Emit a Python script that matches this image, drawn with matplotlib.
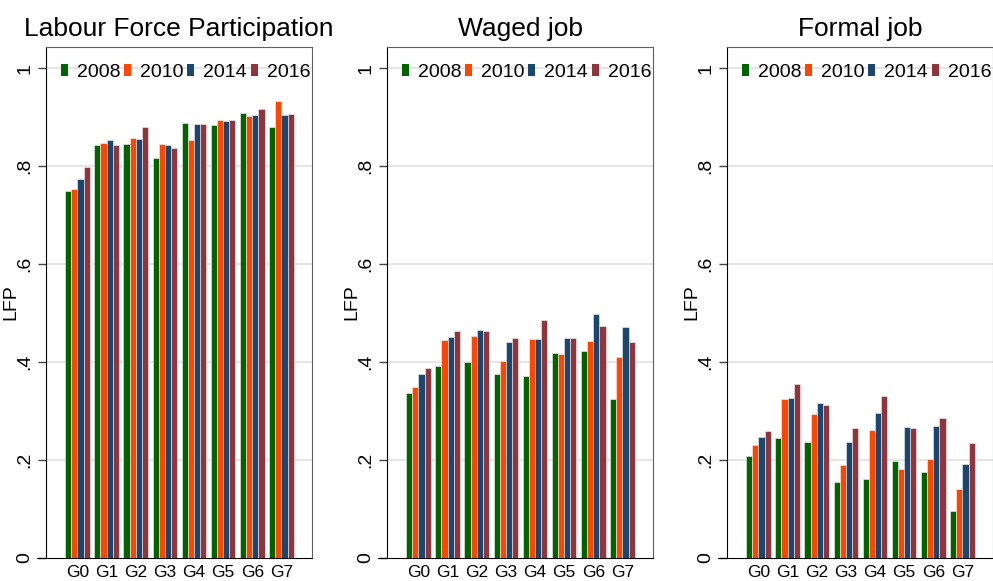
import numpy as np
import matplotlib.pyplot as plt
from matplotlib.patches import Patch

plt.rcParams['font.family'] = ['Liberation Sans', 'DejaVu Sans']

groups = ['G0', 'G1', 'G2', 'G3', 'G4', 'G5', 'G6', 'G7']
years = ['2008', '2010', '2014', '2016']
colors = ['#006400', '#ff4500', '#1a476f', '#90353b']

# labour force participation
lfp = {
    '2008': [0.749, 0.843, 0.844, 0.816, 0.888, 0.883, 0.908, 0.879],
    '2010': [0.754, 0.848, 0.857, 0.846, 0.854, 0.895, 0.903, 0.932],
    '2014': [0.773, 0.854, 0.855, 0.843, 0.886, 0.891, 0.905, 0.905],
    '2016': [0.798, 0.842, 0.880, 0.836, 0.886, 0.893, 0.916, 0.907],
}
# waged job
waged = {
    '2008': [0.337, 0.392, 0.401, 0.375, 0.371, 0.418, 0.422, 0.324],
    '2010': [0.350, 0.445, 0.454, 0.403, 0.447, 0.416, 0.443, 0.410],
    '2014': [0.376, 0.451, 0.465, 0.440, 0.446, 0.450, 0.498, 0.471],
    '2016': [0.388, 0.463, 0.463, 0.449, 0.486, 0.450, 0.473, 0.440],
}
# formal job
formal = {
    '2008': [0.209, 0.244, 0.236, 0.155, 0.162, 0.198, 0.175, 0.095],
    '2010': [0.231, 0.324, 0.293, 0.190, 0.262, 0.181, 0.203, 0.141],
    '2014': [0.246, 0.327, 0.316, 0.237, 0.295, 0.268, 0.269, 0.192],
    '2016': [0.259, 0.355, 0.312, 0.266, 0.331, 0.265, 0.286, 0.234],
}
titles = ['Labour Force Participation', 'Waged job', 'Formal job']
panels = [lfp, waged, formal]

fig = plt.figure(figsize=(9.93, 5.81), dpi=100)
lefts = [46, 387, 727]
x = np.arange(len(groups))
w = 0.21

for left, data, title in zip(lefts, panels, titles):
    ax = fig.add_axes([left / 993, 23 / 581, 266 / 993, 511 / 581])
    for i, y in enumerate(years):
        ax.bar(x + (i - 1.5) * w, data[y], w, color=colors[i],
               edgecolor='#f4f4f4', linewidth=0.4, zorder=3)
    ax.set_xlim(-1.08, 8.05)
    ax.set_ylim(0, 1.043)
    yt = [0, 0.2, 0.4, 0.6, 0.8, 1]
    ax.set_yticks(yt)
    ax.set_yticklabels(['0', '.2', '.4', '.6', '.8', '1'], rotation=90,
                       va='center', fontsize=14)
    for v in yt[1:]:
        ax.axhline(v, color='#e2e2e2', lw=1.2, zorder=1)
    ax.set_xticks(x)
    ax.set_xticklabels(groups, fontsize=12.5)
    ax.tick_params(axis='x', length=0, pad=5)
    ax.tick_params(axis='y', length=6, width=1, color='#444444', pad=3)
    ax.set_ylabel('LFP', fontsize=14)
    ax.yaxis.set_label_coords(-0.1, 0.5)
    ax.set_title(title, fontsize=19, pad=8)
    for s in ['top', 'right']:
        ax.spines[s].set_color('#606060')
    ax.spines['left'].set_color('black')
    ax.spines['bottom'].set_color('black')
    ax.spines['bottom'].set_bounds(-1.4, 8.05)
    ax.spines['bottom'].set_clip_on(False)
    handles = [Patch(facecolor=c, edgecolor='none') for c in colors]
    ax.legend(handles, years, loc='center left', bbox_to_anchor=(0.055, 0.951),
              ncol=4, frameon=False, fontsize=14, handlelength=0.37,
              handleheight=0.6, handletextpad=0.45, columnspacing=0.2,
              borderaxespad=0, borderpad=0)

fig.savefig('out.png', dpi=100)
